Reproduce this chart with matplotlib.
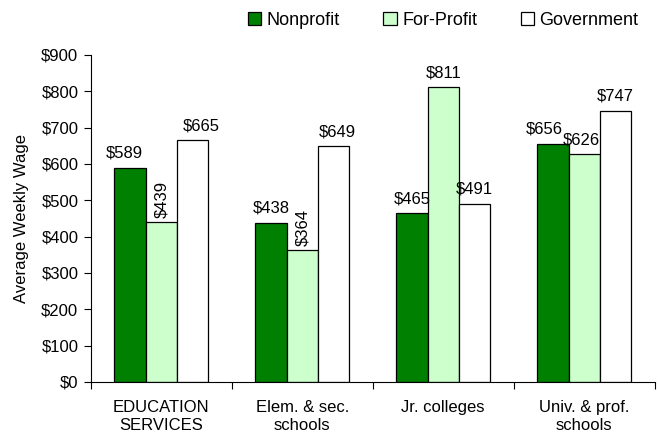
import matplotlib
matplotlib.use("Agg")
import matplotlib.pyplot as plt
import numpy as np
from matplotlib.ticker import FixedLocator, NullFormatter

plt.rcParams['font.family'] = ['Liberation Sans', 'DejaVu Sans']

categories = ["EDUCATION\nSERVICES", "Elem. & sec.\nschools", "Jr. colleges", "Univ. & prof.\nschools"]
series_names = ["Nonprofit", "For-Profit", "Government"]
nonprofit = [589, 438, 465, 656]
forprofit = [439, 364, 811, 626]
government = [665, 649, 491, 747]
yticks = [0, 100, 200, 300, 400, 500, 600, 700, 800, 900]

colors = ["#008000", "#CCFFCC", "#FFFFFF"]
FS = 12
# small horizontal nudges (points) for data labels, as in the original
label_nudge = {(0, 0): -4, (2, 0): 6, (2, 1): 3, (0, 3): -6, (1, 3): -2}

fig = plt.figure(figsize=(6.58, 4.36), dpi=100)
ax = fig.add_axes([0.138, 0.124, 0.857, 0.750])

x = np.arange(len(categories))
w = 1 / 4.5
series = [nonprofit, forprofit, government]
for i, (vals, c, name) in enumerate(zip(series, colors, series_names)):
    pos = x + (i - 1) * w
    ax.bar(pos, vals, width=w, color=c, edgecolor="#000000", linewidth=0.9, label=name, zorder=2)
    for j, (p, v) in enumerate(zip(pos, vals)):
        rot = 90 if (i == 1 and j in (0, 1)) else 0
        dx = label_nudge.get((i, j), 0)
        if rot:
            ax.annotate(f"${v}", (p, v), xytext=(0, 3), textcoords="offset points",
                        ha="center", va="bottom", rotation=90, fontsize=FS)
        else:
            ax.annotate(f"${v}", (p, v), xytext=(dx, 5), textcoords="offset points",
                        ha="center", va="bottom", fontsize=FS)

ax.set_xlim(-0.5, len(categories) - 0.5)
ax.set_ylim(0, 900)
ax.set_yticks(yticks)
ax.set_yticklabels([f"${t}" for t in yticks], fontsize=FS)
ax.xaxis.set_major_locator(FixedLocator(np.arange(len(categories) + 1) - 0.5))
ax.xaxis.set_major_formatter(NullFormatter())
ax.xaxis.set_minor_locator(FixedLocator(x))
ax.set_xticklabels(categories, minor=True, fontsize=FS, linespacing=1.25)
ax.tick_params(axis="x", which="minor", length=0, pad=13)
ax.tick_params(axis="x", which="major", length=5, direction="out")
ax.tick_params(axis="y", length=5, direction="out", pad=4)
for s in ["top", "right"]:
    ax.spines[s].set_visible(False)
ax.set_ylabel("Average Weekly Wage", fontsize=FS, labelpad=9)

fig.legend(loc="upper right", bbox_to_anchor=(0.995, 1.01), ncol=3, frameon=False,
           fontsize=13, handlelength=0.75, handleheight=0.75, handletextpad=0.3,
           columnspacing=2.4)
fig.savefig("out.png", dpi=100)
